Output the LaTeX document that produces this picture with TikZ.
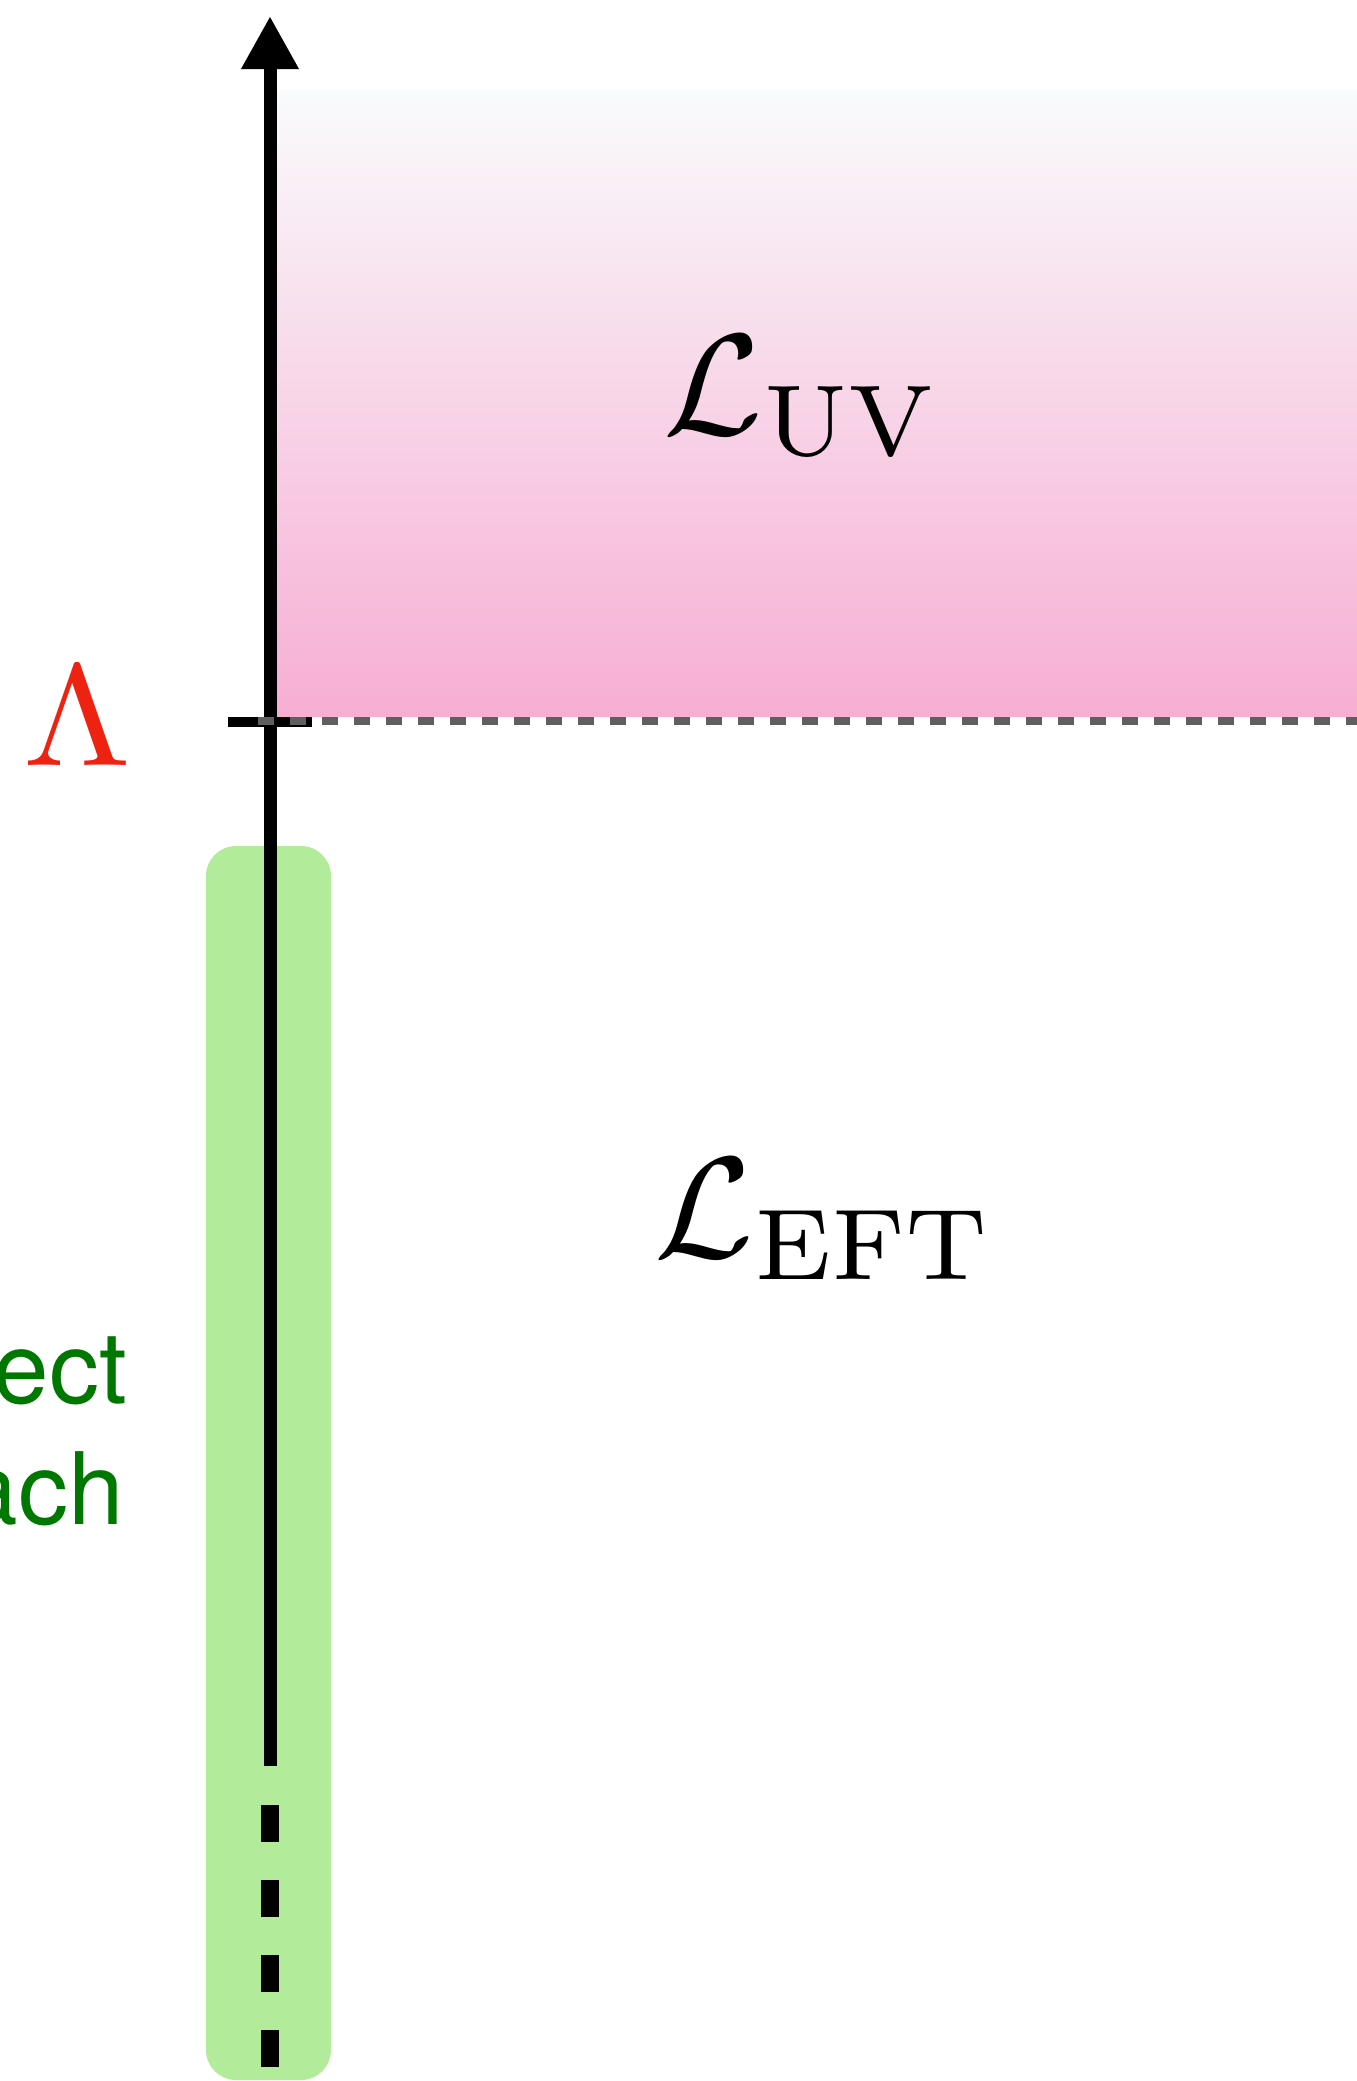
\documentclass[tikz,border=0pt]{standalone}
\usepackage{fontspec}
\definecolor{uvpink}{HTML}{F7AED3}
\definecolor{uvtop}{HTML}{F9FBFC}
\definecolor{lowgreen}{HTML}{B2EB9A}
\definecolor{leaf}{HTML}{007800}
\definecolor{cutred}{HTML}{EE2211}
\definecolor{cutgray}{HTML}{5F5F5F}
\newfontfamily\heros{TeX Gyre Heros}
\usetikzlibrary{arrows.meta, positioning}

\begin{document}
\begin{tikzpicture}[x=1pt, y=-1pt,
    lagr/.style={inner sep=0pt, scale=14.4},
    approach/.style={inner sep=0pt, anchor=base east, text=leaf, font=\heros\fontsize{100}{120}\selectfont}]
  \useasboundingbox (0,0) rectangle (1357,2081);
  \clip (0,0) rectangle (1357,2081);

  \shade[top color=uvtop, bottom color=uvpink] (277,90) rectangle (1357,716);
  \fill[lowgreen, rounded corners=30pt] (206,846) rectangle (331,2080);

  \coordinate (axisbot) at (270,1766);
  \coordinate (axistop) at (270,16);
  \coordinate (dashtop) at (270,1805);
  \coordinate (dashbot) at (270,2110);
  \coordinate (tickL) at (228,722);
  \coordinate (tickR) at (312,722);
  \coordinate (cutL) at (258,721);
  \coordinate (cutR) at (1360,721);

  \draw[line width=13pt, -{Triangle[length=53pt, width=54pt]}] (axisbot) -- (axistop);
  \draw[line width=10pt] (tickL) -- (tickR);
  \draw[cutgray, line width=8pt, dash pattern=on 16pt off 16pt] (cutL) -- (cutR);
  \draw[line width=18pt, dash pattern=on 37pt off 38pt] (dashtop) -- (dashbot);

  \node[lagr, text=cutred, xscale=1.08] (cutoff) at (77,716) {$\Lambda$};
  \node[lagr] (luv) at (802,397) {$\mathcal{L}_{\mathrm{UV}}$};
  \node[lagr] (left) at (825,1219) {$\mathcal{L}_{\mathrm{EFT}}$};

  \node[approach] (direct) at (127,1403) {Direct};
  \node[approach] (appr) at (124,1524) {approach};
\end{tikzpicture}
\end{document}
